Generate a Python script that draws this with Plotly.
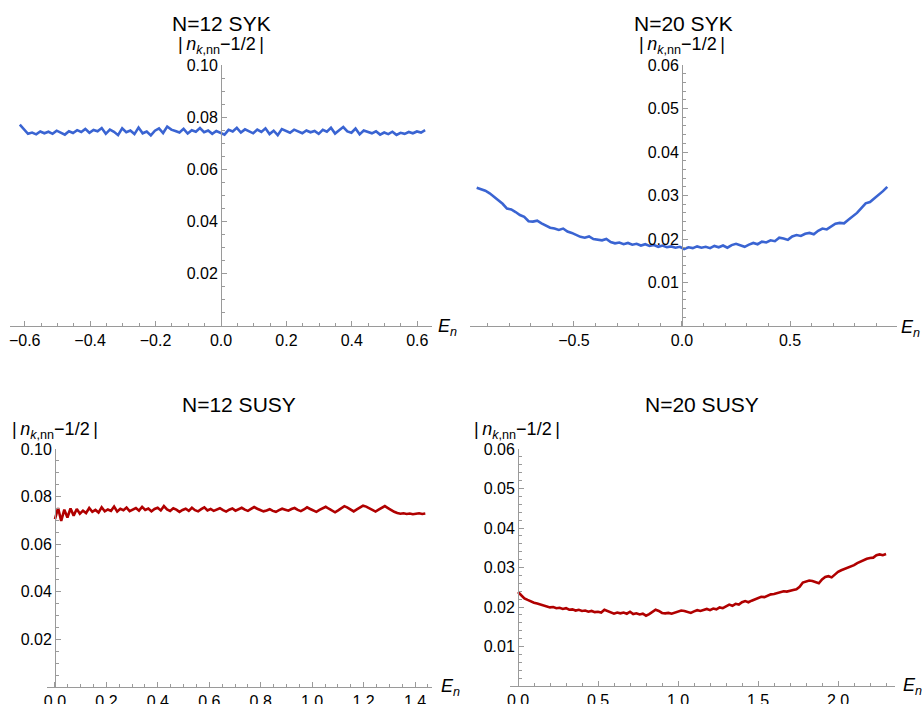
import numpy as np
import plotly.graph_objects as go

W, H = 922, 704

# ---------------- data ----------------
syk12_x_range = (-0.615, 0.624)
syk12_y = [0.0771,0.0752,0.0736,0.0741,0.0734,0.0745,0.0738,0.0744,0.0736,0.0748,
           0.0741,0.0733,0.0746,0.0739,0.0750,0.0743,0.0755,0.0740,0.0751,0.0746,
           0.0758,0.0736,0.0752,0.0744,0.0731,0.0757,0.0742,0.0749,0.0735,0.0760,
           0.0738,0.0745,0.0730,0.0748,0.0757,0.0739,0.0764,0.0752,0.0747,0.0741,
           0.0755,0.0737,0.0750,0.0744,0.0758,0.0742,0.0749,0.0736,0.0747,0.0740,
           0.0733,0.0751,0.0745,0.0759,0.0741,0.0753,0.0747,0.0738,0.0752,0.0743,
           0.0757,0.0735,0.0748,0.0731,0.0754,0.0746,0.0740,0.0752,0.0744,0.0738,
           0.0749,0.0742,0.0747,0.0736,0.0751,0.0744,0.0759,0.0737,0.0750,0.0762,
           0.0745,0.0740,0.0756,0.0734,0.0749,0.0743,0.0738,0.0746,0.0733,0.0741,
           0.0735,0.0744,0.0732,0.0740,0.0736,0.0743,0.0738,0.0745,0.0741,0.0750]

syk20_x_range = (-0.95, 0.95)
syk20_y = [0.0318,0.0314,0.0311,0.0305,0.0297,0.0290,0.0281,0.0270,0.0268,0.0262,
           0.0255,0.0251,0.0241,0.0240,0.0242,0.0236,0.0231,0.0226,0.0224,0.0221,
           0.0224,0.0217,0.0214,0.0210,0.0205,0.0203,0.0206,0.0200,0.0199,0.0197,
           0.0200,0.0193,0.0190,0.0192,0.0188,0.0191,0.0187,0.0189,0.0185,0.0188,
           0.0184,0.0186,0.0182,0.0185,0.0181,0.0183,0.0180,0.0182,0.0177,0.0181,
           0.0179,0.0183,0.0180,0.0182,0.0179,0.0184,0.0181,0.0185,0.0180,0.0186,
           0.0189,0.0185,0.0182,0.0187,0.0191,0.0188,0.0194,0.0192,0.0197,0.0195,
           0.0203,0.0201,0.0198,0.0206,0.0209,0.0207,0.0212,0.0214,0.0211,0.0219,
           0.0224,0.0222,0.0228,0.0235,0.0237,0.0236,0.0244,0.0252,0.0260,0.0271,
           0.0282,0.0285,0.0293,0.0301,0.0310,0.0320]

susy12_x_range = (0.0, 1.44)
susy12_y = [0.0705,0.0752,0.0698,0.0745,0.0712,0.0750,0.0720,0.0748,0.0728,0.0741,
            0.0731,0.0752,0.0736,0.0744,0.0733,0.0755,0.0738,0.0746,0.0740,0.0758,
            0.0737,0.0749,0.0743,0.0754,0.0739,0.0747,0.0752,0.0741,0.0757,0.0744,
            0.0750,0.0738,0.0748,0.0753,0.0742,0.0760,0.0746,0.0740,0.0751,0.0745,
            0.0736,0.0744,0.0749,0.0740,0.0753,0.0743,0.0738,0.0747,0.0755,0.0742,
            0.0748,0.0740,0.0746,0.0751,0.0743,0.0737,0.0745,0.0750,0.0741,0.0747,
            0.0753,0.0745,0.0740,0.0748,0.0756,0.0749,0.0743,0.0738,0.0742,0.0747,
            0.0740,0.0736,0.0743,0.0749,0.0745,0.0741,0.0748,0.0752,0.0744,0.0739,
            0.0746,0.0755,0.0748,0.0741,0.0736,0.0744,0.0750,0.0757,0.0749,0.0740,
            0.0734,0.0742,0.0751,0.0760,0.0754,0.0745,0.0738,0.0746,0.0755,0.0762,
            0.0758,0.0750,0.0742,0.0737,0.0745,0.0753,0.0760,0.0752,0.0743,0.0736,
            0.0731,0.0728,0.0730,0.0727,0.0729,0.0726,0.0728,0.0730,0.0727,0.0729]

susy20_x_range = (0.0, 2.30)
susy20_y = [0.0238,0.0229,0.0222,0.0218,0.0214,0.0211,0.0209,0.0206,0.0204,0.0201,
            0.0199,0.0200,0.0197,0.0198,0.0195,0.0197,0.0193,0.0194,0.0191,0.0193,
            0.0190,0.0191,0.0188,0.0190,0.0187,0.0188,0.0186,0.0193,0.0189,0.0185,
            0.0183,0.0186,0.0184,0.0186,0.0183,0.0188,0.0182,0.0184,0.0181,0.0183,
            0.0178,0.0182,0.0187,0.0193,0.0190,0.0185,0.0184,0.0185,0.0183,0.0186,
            0.0189,0.0191,0.0190,0.0187,0.0185,0.0189,0.0192,0.0190,0.0193,0.0195,
            0.0192,0.0196,0.0194,0.0199,0.0197,0.0202,0.0206,0.0203,0.0208,0.0206,
            0.0212,0.0215,0.0212,0.0216,0.0220,0.0224,0.0226,0.0225,0.0229,0.0232,
            0.0233,0.0236,0.0238,0.0240,0.0239,0.0242,0.0243,0.0245,0.0251,0.0262,
            0.0265,0.0267,0.0266,0.0262,0.0260,0.0270,0.0276,0.0278,0.0275,0.0282,
            0.0289,0.0293,0.0296,0.0299,0.0304,0.0306,0.0311,0.0315,0.0318,0.0322,
            0.0324,0.0325,0.0331,0.0333,0.0331,0.0334]

titles = ["N=12 SYK", "N=20 SYK", "N=12 SUSY", "N=20 SUSY"]
BLUE = "#3a64d2"
RED = "#b00000"
AXC = "#9a9a9a"
FONT = "Liberation Sans, Arial, sans-serif"

# ---------------- layout geometry (pixels) ----------------
def px(x):
    return x / W

def py(y):
    return (H - y) / H

panels = [
    dict(xpx=(10, 432), xr=(-0.645, 0.645), ypx=(325.7, 65), yr=(0, 0.10), yax=221,
         dx=0.2, mx=0.05, dy=0.02, my=0.005, fy=".2f", data=(syk12_x_range, syk12_y), col=BLUE,
         title=(221, 23), ylab=(221, 46), elab=(447, 327)),
    dict(xpx=(470, 897), xr=(-0.981, 0.995), ypx=(326, 65), yr=(0, 0.06), yax=682,
         dx=0.5, mx=0.1, dy=0.01, my=0.002, fy=".2f", data=(syk20_x_range, syk20_y), col=BLUE,
         title=(683, 23), ylab=(682, 46), elab=(910, 328)),
    dict(xpx=(47, 432), xr=(-0.031, 1.466), ypx=(687, 449), yr=(0, 0.10), yax=55,
         dx=0.2, mx=0.05, dy=0.02, my=0.005, fy=".2f", data=(susy12_x_range, susy12_y), col=RED,
         title=(239, 405), ylab=(55, 430), elab=(450, 687)),
    dict(xpx=(510, 895), xr=(-0.05, 2.356), ypx=(686, 449), yr=(0, 0.06), yax=518,
         dx=0.5, mx=0.1, dy=0.01, my=0.002, fy=".2f", data=(susy20_x_range, susy20_y), col=RED,
         title=(702, 405), ylab=(517, 430), elab=(912, 686)),
]

fig = go.Figure()
annotations = []
tickfont = dict(family=FONT, size=16, color="black")

for i, p in enumerate(panels):
    k = "" if i == 0 else str(i + 1)
    (x0, x1), ys = p["data"]
    xs = np.linspace(x0, x1, len(ys))
    fig.add_trace(go.Scatter(x=xs, y=ys, mode="lines",
                             line=dict(color=p["col"], width=2.6),
                             xaxis="x" + k, yaxis="y" + k, showlegend=False,
                             hoverinfo="skip"))
    xdom = [px(p["xpx"][0]), px(p["xpx"][1])]
    ydom = [py(p["ypx"][0]), py(p["ypx"][1])]
    fig.layout["xaxis" + k] = dict(
        domain=xdom, range=list(p["xr"]), anchor="y" + k, automargin=False,
        showgrid=False, zeroline=False, showline=True, linecolor=AXC, linewidth=1,
        ticks="inside", ticklen=5, tickcolor=AXC, tickwidth=1,
        dtick=p["dx"], tick0=0, tickformat=".1f", tickfont=tickfont,
        minor=dict(dtick=p["mx"], tick0=0, ticks="inside", ticklen=3,
                   tickcolor=AXC, tickwidth=1, showgrid=False),
        fixedrange=True,
    )
    n_major = int(round(p["yr"][1] / p["dy"]))
    tv = [p["dy"] * j for j in range(1, n_major + 1)]
    fig.layout["yaxis" + k] = dict(
        domain=ydom, range=list(p["yr"]), anchor="free", position=px(p["yax"]),
        automargin=False,
        showgrid=False, zeroline=False, showline=True, linecolor=AXC, linewidth=1,
        ticks="inside", ticklen=5, tickcolor=AXC, tickwidth=1,
        tickmode="array", tickvals=tv, ticktext=[format(v, p["fy"]) for v in tv],
        tickfont=tickfont,
        minor=dict(dtick=p["my"], tick0=0, ticks="inside", ticklen=3,
                   tickcolor=AXC, tickwidth=1, showgrid=False),
        fixedrange=True,
    )

    annotations.append(dict(text=titles[i], x=px(p["title"][0]), y=py(p["title"][1]),
                            xref="paper", yref="paper", showarrow=False,
                            xanchor="center", yanchor="middle",
                            font=dict(family=FONT, size=21, color="black")))
    annotations.append(dict(text="|\u2009<i>n</i><sub><i>k</i>,nn</sub>\u22121/2\u2009|",
                            x=px(p["ylab"][0]), y=py(p["ylab"][1]),
                            xref="paper", yref="paper", showarrow=False,
                            xanchor="center", yanchor="middle",
                            font=dict(family=FONT, size=18, color="black")))
    annotations.append(dict(text="<i>E</i><sub><i>n</i></sub>",
                            x=px(p["elab"][0]), y=py(p["elab"][1]),
                            xref="paper", yref="paper", showarrow=False,
                            xanchor="center", yanchor="middle",
                            font=dict(family=FONT, size=18, color="black")))

fig.update_layout(width=W, height=H, autosize=False,
                  margin=dict(l=0, r=0, t=0, b=0, autoexpand=False),
                  paper_bgcolor="white", plot_bgcolor="white",
                  annotations=annotations, showlegend=False)

fig.write_html("out.html", config=dict(displayModeBar=False))
